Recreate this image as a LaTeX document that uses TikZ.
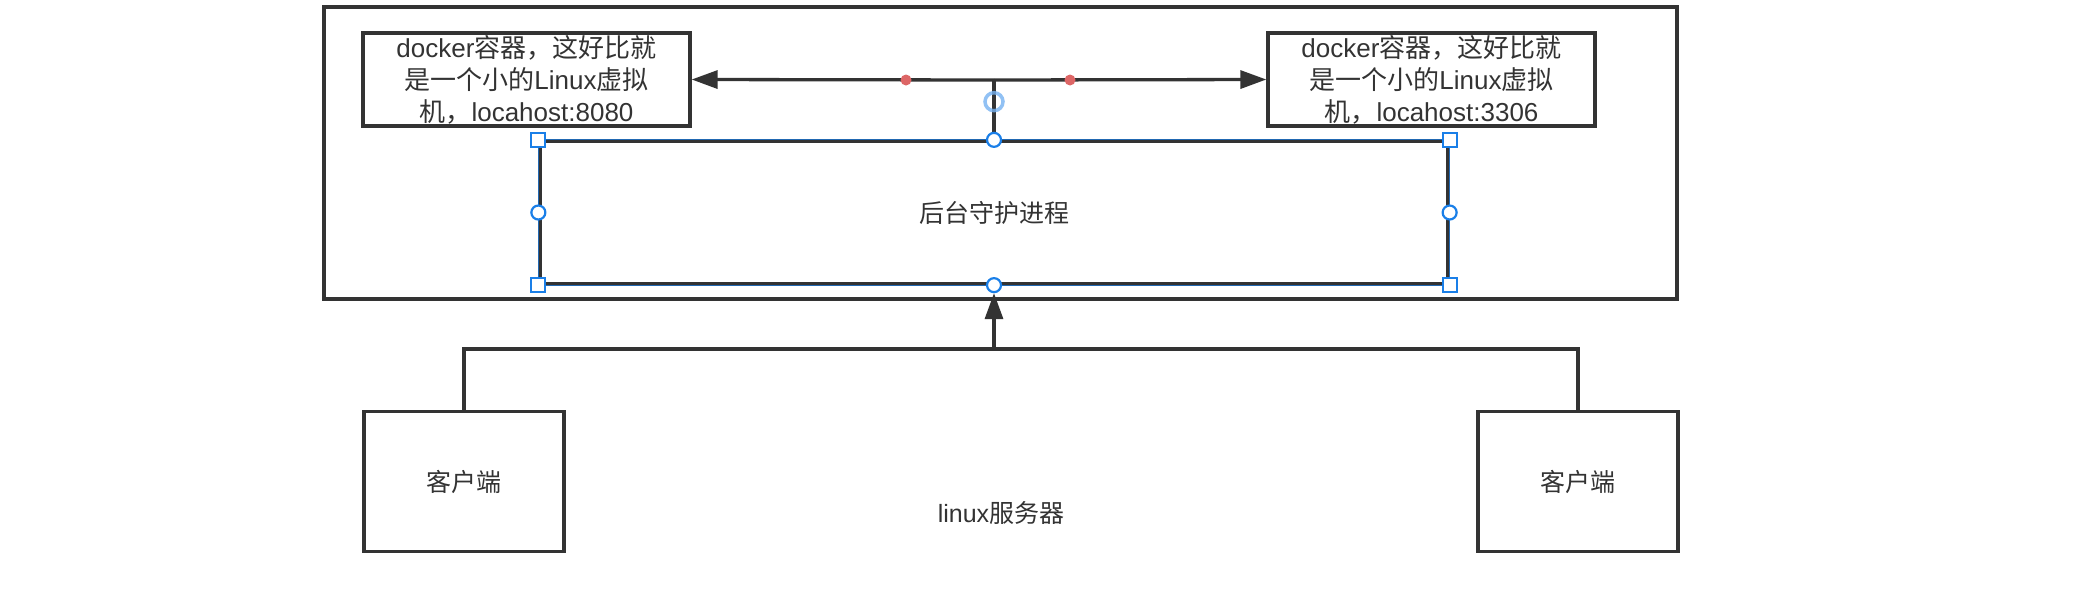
\documentclass[tikz,border=0pt]{standalone}
\usepackage{fontspec}
\setmainfont{Noto Sans CJK SC}
\newfontfamily\lat{Liberation Sans}
\usetikzlibrary{arrows.meta}
\definecolor{ink}{HTML}{333333}
\definecolor{selblue}{HTML}{1A7FE8}
\definecolor{reddot}{HTML}{DD6666}
\tikzset{
  box/.style={draw=ink, line width=3.3pt, rectangle, inner sep=0pt, text=ink, font=\fontsize{25}{31}\selectfont, align=center},
  dockbox/.style={box, minimum width=327pt, minimum height=93pt, text width=327pt, font=\fontsize{26}{32}\selectfont},
  conn/.style={draw=ink, line width=3.3pt},
  arr/.style={conn, -{Triangle[length=26pt, width=18pt]}},
  handlesq/.style={draw=selblue, fill=white, line width=2.2pt, rectangle, minimum size=14pt, inner sep=0pt},
  handleci/.style={draw=selblue, fill=white, line width=2.2pt, circle, minimum size=14pt, inner sep=0pt},
}
\begin{document}
\begin{tikzpicture}[x=1pt,y=-1pt]
\useasboundingbox (0,0) rectangle (2088,598);
% outer linux server frame
\node[box, minimum width=1353pt, minimum height=292pt] (outer) at (1000.5,153) {};
% docker containers
\node[dockbox] (docL) at (526.5,79.5)
  {{\lat docker}容器，这好比就\\是一个小的{\lat Linux}虚拟\\机，{\lat locahost:8080}};
\node[dockbox] (docR) at (1431.5,79.5)
  {{\lat docker}容器，这好比就\\是一个小的{\lat Linux}虚拟\\机，{\lat locahost:3306}};
% daemon
\node[box, minimum width=908pt, minimum height=142pt] (daemon) at (994,212.5) {后台守护进程};
\draw[selblue!70!ink, line width=1pt] (daemon.north west) rectangle (daemon.south east);
% clients
\node[box, minimum width=200pt, minimum height=140pt] (clientL) at (464,481.5) {客户端};
\node[box, minimum width=200pt, minimum height=140pt] (clientR) at (1578,481.5) {客户端};
% label
\node[text=ink, font=\fontsize{25}{31}\selectfont, inner sep=0pt] (linux) at (1001,513) {{\lat linux}服务器};
% connectors top
\coordinate (J) at (994,80);
\draw[arr] (J) -- (docL.east);
\draw[arr] (J) -- (docR.west);
\draw[conn] (daemon.north) -- (J);
% connectors bottom
\coordinate (B) at (994,349);
\draw[conn] (clientL.north) |- (B);
\draw[conn] (clientR.north) |- (B);
\draw[arr, shorten >=8pt] (B) -- (daemon.south);
% selection decorations
\draw[selblue!60, line width=3.5pt, opacity=0.8] (994,101.7) circle (9pt);
\fill[reddot] (906,80) circle (5.5pt);
\fill[reddot] (1070,80) circle (5.5pt);
\node[handlesq] (h1) at (daemon.north west) {};
\node[handlesq] (h2) at (daemon.north east) {};
\node[handlesq] (h3) at (daemon.south west) {};
\node[handlesq] (h4) at (daemon.south east) {};
\node[handleci] (h5) at (daemon.north) {};
\node[handleci] (h6) at (daemon.south) {};
\node[handleci] (h7) at (daemon.west) {};
\node[handleci] (h8) at (daemon.east) {};
\end{tikzpicture}
\end{document}
